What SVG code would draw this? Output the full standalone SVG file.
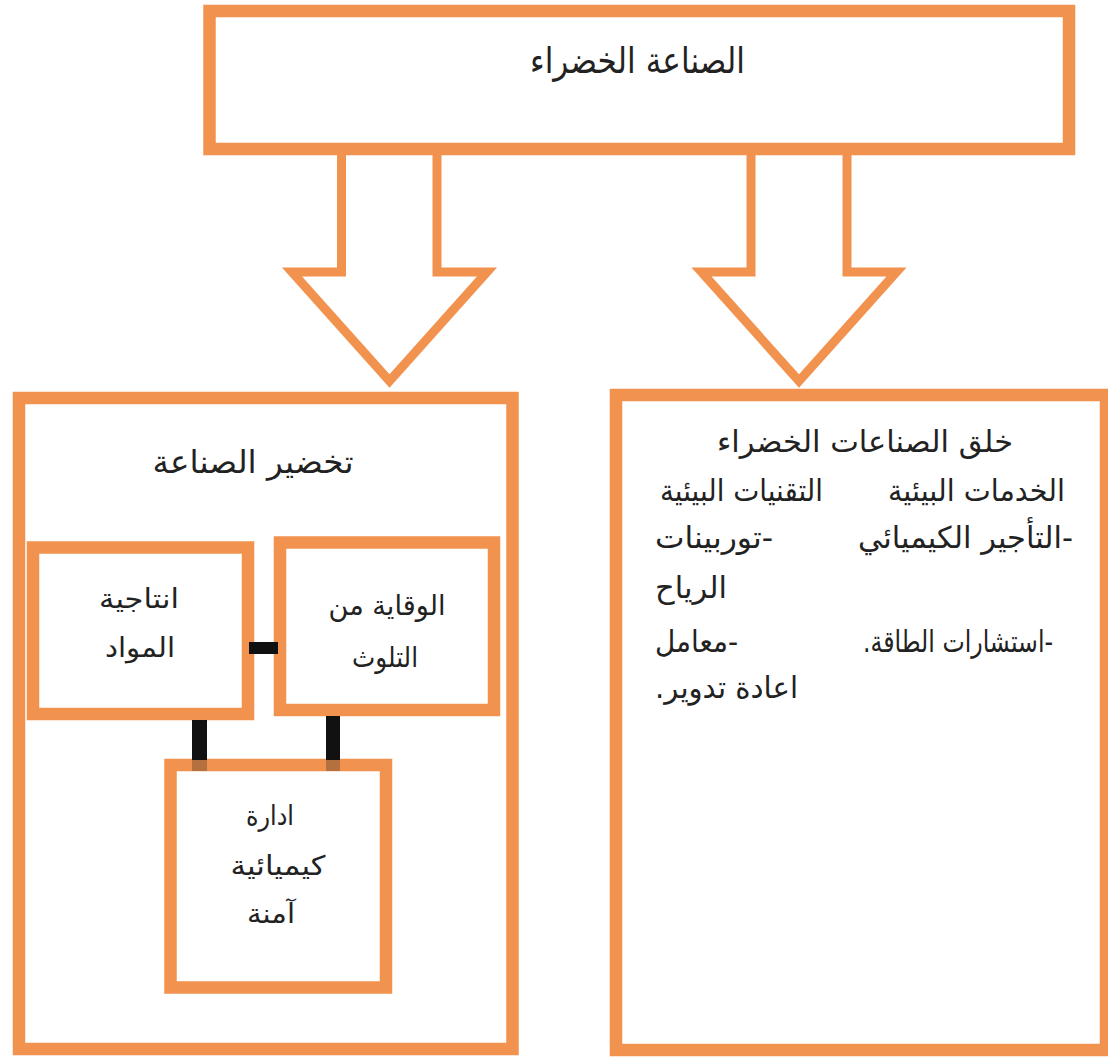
<svg xmlns="http://www.w3.org/2000/svg" width="1108" height="1057" viewBox="0 0 1108 1057">
<style>
.box{fill:#ffffff;stroke:#F2924F;stroke-width:12.5}
.arrow{fill:#ffffff;stroke:#F2924F;stroke-width:9;stroke-linejoin:miter;stroke-miterlimit:10}
.t{font-family:"DejaVu Sans",sans-serif;fill:#222222;text-anchor:middle;direction:rtl}
.link{fill:#111111}
.lap{fill:#B5703F}
</style>
<rect width="1108" height="1057" fill="#ffffff"/>
<g id="connectors">
<path class="arrow" d="M341.5,149 V272 H292 L389.5,381 L487,272 H437 V149"/>
<path class="arrow" d="M751,149 V272 H701.5 L799,381 L896.5,272 H847 V149"/>
</g>
<g id="node-top">
<rect class="box" x="209.5" y="11" width="859.5" height="138"/>
<text class="t" x="637.5" y="73" font-size="36" textLength="215" lengthAdjust="spacingAndGlyphs">الصناعة الخضراء</text>
</g>
<g id="node-left">
<rect class="box" x="19" y="398" width="493.5" height="651"/>
<text class="t" x="253" y="473" font-size="32" textLength="201" lengthAdjust="spacingAndGlyphs">تخضير الصناعة</text>
</g>
<g id="node-right">
<rect class="box" x="616" y="395" width="490" height="655"/>
<text class="t" x="865" y="452" font-size="30" textLength="296" lengthAdjust="spacingAndGlyphs">خلق الصناعات الخضراء</text>
<text class="t" x="976.5" y="501" font-size="30" textLength="177" lengthAdjust="spacingAndGlyphs">الخدمات البيئية</text>
<text class="t" x="741.5" y="501" font-size="30" textLength="163" lengthAdjust="spacingAndGlyphs">التقنيات البيئية</text>
<text class="t" x="965.5" y="548" font-size="30" textLength="215" lengthAdjust="spacingAndGlyphs">-التأجير الكيميائي</text>
<text class="t" x="714" y="548" font-size="30" textLength="118" lengthAdjust="spacingAndGlyphs">-توربينات</text>
<text class="t" x="691" y="598" font-size="30" textLength="72" lengthAdjust="spacingAndGlyphs">الرياح</text>
<text class="t" x="958" y="652" font-size="30" textLength="190" lengthAdjust="spacingAndGlyphs">-استشارات الطاقة.</text>
<text class="t" x="696.5" y="652" font-size="30" textLength="83" lengthAdjust="spacingAndGlyphs">-معامل</text>
<text class="t" x="726.5" y="698" font-size="30" textLength="143" lengthAdjust="spacingAndGlyphs">اعادة تدوير.</text>
</g>
<g id="node-materials">
<rect class="box" x="33" y="547.5" width="215" height="166.5" stroke-width="12"/>
<text class="t" x="139" y="608" font-size="27" textLength="80" lengthAdjust="spacingAndGlyphs">انتاجية</text>
<text class="t" x="140" y="657" font-size="27" textLength="70" lengthAdjust="spacingAndGlyphs">المواد</text>
</g>
<g id="node-pollution">
<rect class="box" x="280" y="542.5" width="214" height="167.5" stroke-width="13"/>
<text class="t" x="387" y="615" font-size="28" textLength="117" lengthAdjust="spacingAndGlyphs">الوقاية من</text>
<text class="t" x="385" y="667" font-size="28" textLength="66" lengthAdjust="spacingAndGlyphs">التلوث</text>
</g>
<g id="node-chemical">
<rect class="box" x="170.5" y="765" width="215.5" height="222.5" stroke-width="13"/>
<text class="t" x="270" y="825" font-size="27" textLength="48" lengthAdjust="spacingAndGlyphs">ادارة</text>
<text class="t" x="278" y="875" font-size="27" textLength="95" lengthAdjust="spacingAndGlyphs">كيميائية</text>
<text class="t" x="271" y="923" font-size="27" textLength="48" lengthAdjust="spacingAndGlyphs">آمنة</text>
</g>
<g id="links">
<rect class="link" x="249" y="642" width="29" height="12"/>
<rect class="link" x="192" y="720" width="15" height="40"/>
<rect class="lap" x="192" y="760" width="15" height="11"/>
<rect class="link" x="326" y="716" width="14" height="44"/>
<rect class="lap" x="326" y="760" width="14" height="11"/>
</g>
</svg>
